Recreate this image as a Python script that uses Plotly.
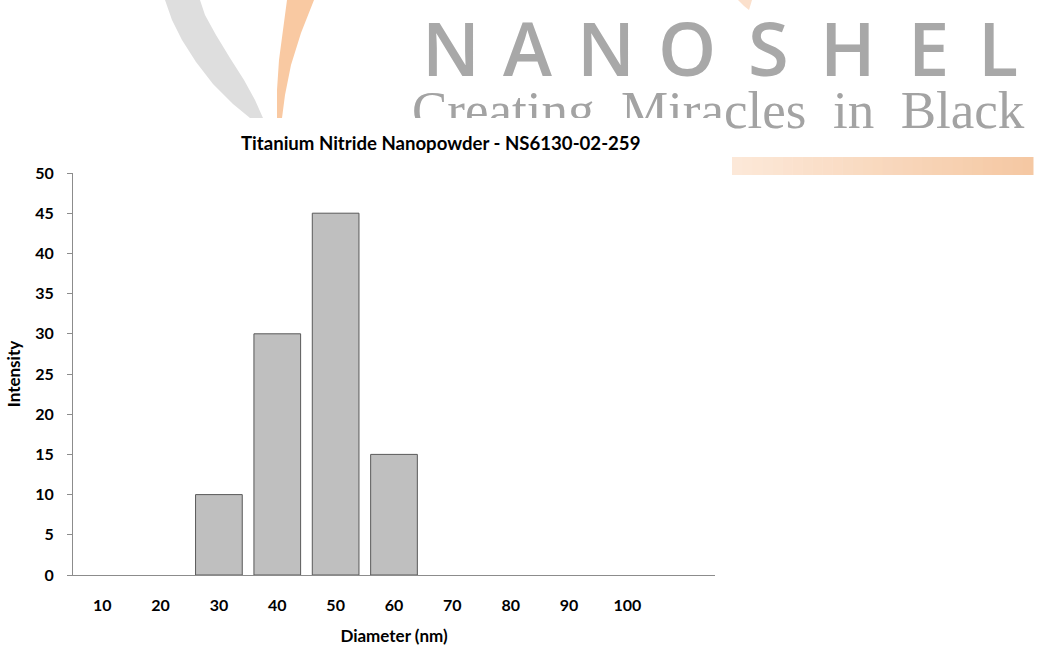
import plotly.graph_objects as go

# ---------------- data ----------------
diameters = ["10", "20", "30", "40", "50", "60", "70", "80", "90", "100"]
intensity = [0, 0, 10, 30, 45, 15, 0, 0, 0, 0]
y_ticks = [0, 5, 10, 15, 20, 25, 30, 35, 40, 45, 50]

title_text = "Titanium Nitride Nanopowder - NS6130-02-259"
x_title = "Diameter (nm)"
y_title = "Intensity"
brand_letters = list("NANOSHEL")
brand_tagline = "Creating\u00a0 Miracles\u00a0 in\u00a0 Black"

# ---------------- geometry (pixels) ----------------
W, H = 1037, 646
PL, PR, PT, PB = 73, 715, 173, 575  # plot area in pixels


def px(x):
    return (x - PL) / (PR - PL)


def py(y):
    return (PB - y) / (PB - PT)


def path(points):
    return "M " + " L ".join(f"{px(a):.5f},{py(b):.5f}" for a, b in points) + " Z"


fig = go.Figure()
fig.add_trace(go.Bar(
    x=diameters, y=intensity,
    marker=dict(color="#bfbfbf",
                line=dict(color="#595959", width=[1 if v > 0 else 0 for v in intensity])),
    hoverinfo="x+y",
))

shapes = []
# gray logo swoosh
gray_left = [(165, 0), (172, 20), (182, 40), (196, 62), (213, 84), (233, 104), (250, 118)]
gray_right = [(263, 118), (255, 100), (244, 80), (230, 58), (216, 35), (205, 15), (200, 0)]
shapes.append(dict(type="path", xref="paper", yref="paper", path=path(gray_left + gray_right),
                   fillcolor="#dedede", line=dict(width=0), layer="below"))
# orange logo swoosh
or_left = [(287, 0), (283, 30), (279, 60), (277, 90), (277, 118)]
or_right = [(282, 118), (285, 95), (291, 65), (301, 33), (314, 0)]
shapes.append(dict(type="path", xref="paper", yref="paper", path=path(or_left + or_right),
                   fillcolor="#f9c9a2", line=dict(width=0), layer="below"))
# small orange touch near the top
shapes.append(dict(type="path", xref="paper", yref="paper",
                   path=path([(738, 0), (752, 0), (749, 10), (744, 6)]),
                   fillcolor="#fbe0cc", line=dict(width=0), layer="below"))
# orange gradient bar
n_seg = 30
x0b, x1b = 732, 1033
c0 = (252, 232, 216)
c1 = (245, 200, 163)
for i in range(n_seg):
    t = i / (n_seg - 1)
    col = tuple(round(c0[k] + (c1[k] - c0[k]) * t) for k in range(3))
    xa = x0b + (x1b - x0b) * i / n_seg
    xb = x0b + (x1b - x0b) * (i + 1) / n_seg + 0.5
    shapes.append(dict(type="rect", xref="paper", yref="paper",
                       x0=px(xa), x1=px(xb), y0=py(175), y1=py(157),
                       fillcolor=f"rgb{col}", line=dict(width=0), layer="below"))

annotations = []
# NANOSHEL letters
letter_x = [451, 527, 606, 687, 768, 848, 928, 998]
for ch, lx in zip(brand_letters, letter_x):
    annotations.append(dict(text=ch, x=px(lx), y=py(47), xref="paper", yref="paper",
                            xanchor="center", yanchor="middle", showarrow=False,
                            font=dict(family="Open Sans", size=74, color="#a8a8a8", weight=600)))
# tagline
annotations.append(dict(text=brand_tagline, x=px(1027), y=py(110), xref="paper", yref="paper",
                        xanchor="right", yanchor="middle", showarrow=False,
                        font=dict(family="Liberation Serif", size=53, color="#a3a3a3")))
# white chart-area cover that hides the lower part of the watermark
annotations.append(dict(text=" ", x=px(0), y=py(118), xref="paper", yref="paper",
                        xanchor="left", yanchor="top", showarrow=False,
                        width=725, height=45, bgcolor="white", borderpad=0, borderwidth=0))
# chart title
annotations.append(dict(text=f"<b>{title_text}</b>", x=px(441), y=py(143), xref="paper", yref="paper",
                        xanchor="center", yanchor="middle", showarrow=False,
                        font=dict(family="Lato", size=18.6, color="#000000")))

fig.update_layout(
    width=W, height=H,
    margin=dict(l=PL, r=W - PR, t=PT, b=H - PB, autoexpand=False),
    paper_bgcolor="white", plot_bgcolor="white",
    showlegend=False, bargap=0.2,
    shapes=shapes, annotations=annotations,
    font=dict(family="Lato", color="#000000"),
)
fig.update_xaxes(
    type="category", range=[-0.5, 10.5],
    showline=True, linecolor="#8c8c8c", linewidth=1,
    showgrid=False, ticks="", ticklabelstandoff=16,
    tickfont=dict(family="Lato", size=16, color="#000", weight="bold"),
    title=dict(text=f"<b>{x_title}</b>", standoff=18, font=dict(family="Lato", size=17, color="#000")),
    fixedrange=True,
)
fig.update_yaxes(
    range=[0, 50], tickvals=y_ticks,
    showline=True, linecolor="#8c8c8c", linewidth=1,
    showgrid=False, zeroline=False,
    ticks="outside", ticklen=5, tickcolor="#8c8c8c", ticklabelstandoff=10,
    tickfont=dict(family="Lato", size=16, color="#000", weight="bold"),
    title=dict(text=f"<b>{y_title}</b>", standoff=10, font=dict(family="Lato", size=17, color="#000")),
    fixedrange=True,
)

fig.write_html("out.html", config={"displayModeBar": False},
               post_script="document.body.style.margin='0';document.body.style.overflow='hidden';")
